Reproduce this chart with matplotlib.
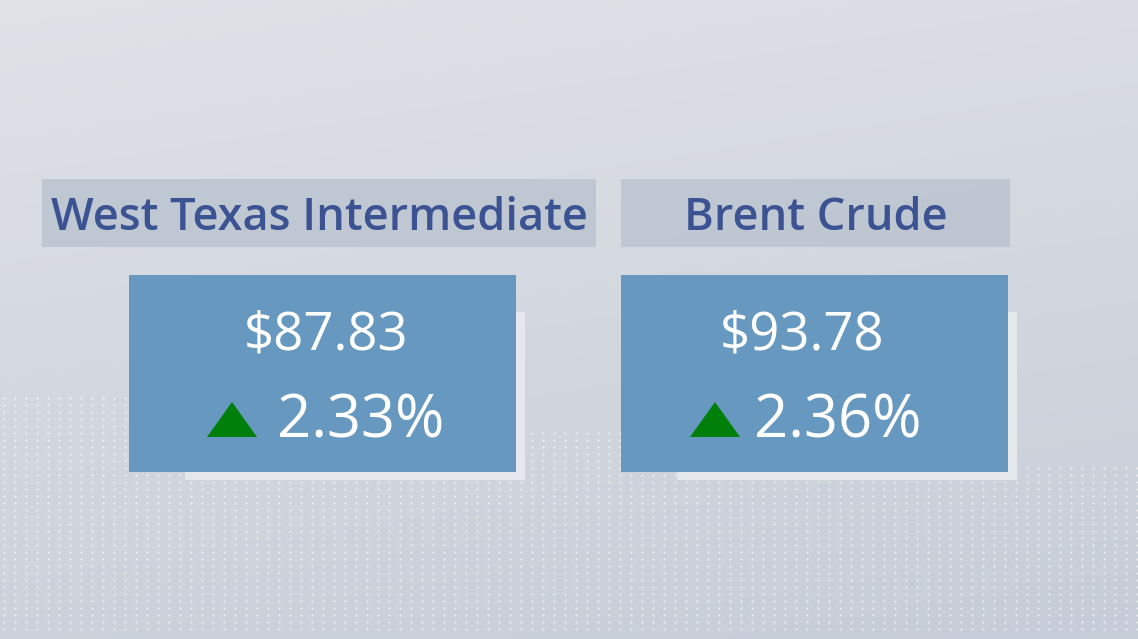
import matplotlib.pyplot as plt
import numpy as np
from matplotlib.patches import Rectangle, Polygon

# values shown on the board
benchmarks = ["West Texas Intermediate", "Brent Crude"]
prices = [87.83, 93.78]
changes = [2.33, 2.36]

W, H = 1138, 639
fig = plt.figure(figsize=(W / 100, H / 100), dpi=100)
ax = fig.add_axes([0, 0, 1, 1])
ax.set_xlim(0, W)
ax.set_ylim(H, 0)
ax.axis("off")

# background gradient (light top-left, greyer blue lower down)
gy, gx = np.mgrid[0:1:160j, 0:1:280j]
t = 0.7 * gy + 0.2 * gx
top = np.array([0.875, 0.885, 0.905])
bot = np.array([0.77, 0.795, 0.84])
bg = top[None, None, :] * (1 - t[..., None]) + bot[None, None, :] * t[..., None]
ax.imshow(bg, extent=[0, W, H, 0], aspect="auto", zorder=0, interpolation="bicubic")

# decorative dot pattern in the lower part
dx = np.arange(4, W, 11)
dy = np.arange(398, 630, 7)
DX, DY = np.meshgrid(dx, dy)
skyline = np.where(DX < 130, 395, np.where(DX < 500, 400, np.where(DX < 1010, 428, 462)))
keep = DY >= skyline
ax.scatter(DX[keep], DY[keep], s=2.2, color="white", alpha=0.7, lw=0, zorder=1)

font = "Open Sans"
hdr_x = [42, 621]
hdr_w = [554, 389]
box_x = [129, 621]
box_w = 387
price_x = [326, 802]
tri_x = [207, 690]
pct_x = [277, 754]

for i, name in enumerate(benchmarks):
    # header band
    ax.add_patch(Rectangle((hdr_x[i], 179), hdr_w[i], 68, color="#bcc5d1", alpha=0.9, lw=0, zorder=2))
    ax.text(hdr_x[i] + hdr_w[i] / 2, 218, name, ha="center", va="center",
            color="#3b5392", fontsize=32.5, family=font, fontweight="semibold", zorder=3)
    # pale card behind the value box
    ax.add_patch(Rectangle((box_x[i] + 56, 312), box_w - 47, 168, color="#e4e7eb", lw=0, zorder=2))
    ax.add_patch(Rectangle((box_x[i], 275), box_w, 197, color="#6799c0", lw=0, zorder=3))
    ax.text(price_x[i], 336, f"${prices[i]:.2f}", ha="center", va="center",
            color="white", fontsize=38, family=font, zorder=4)
    tx = tri_x[i]
    ax.add_patch(Polygon([(tx, 437), (tx + 50, 437), (tx + 25, 402)], closed=True,
                         color="#00800a", lw=0, zorder=4))
    ax.text(pct_x[i], 421, f"{changes[i]:.2f}%", ha="left", va="center",
            color="white", fontsize=43, family=font, zorder=4)

fig.savefig("out.png", dpi=100)
